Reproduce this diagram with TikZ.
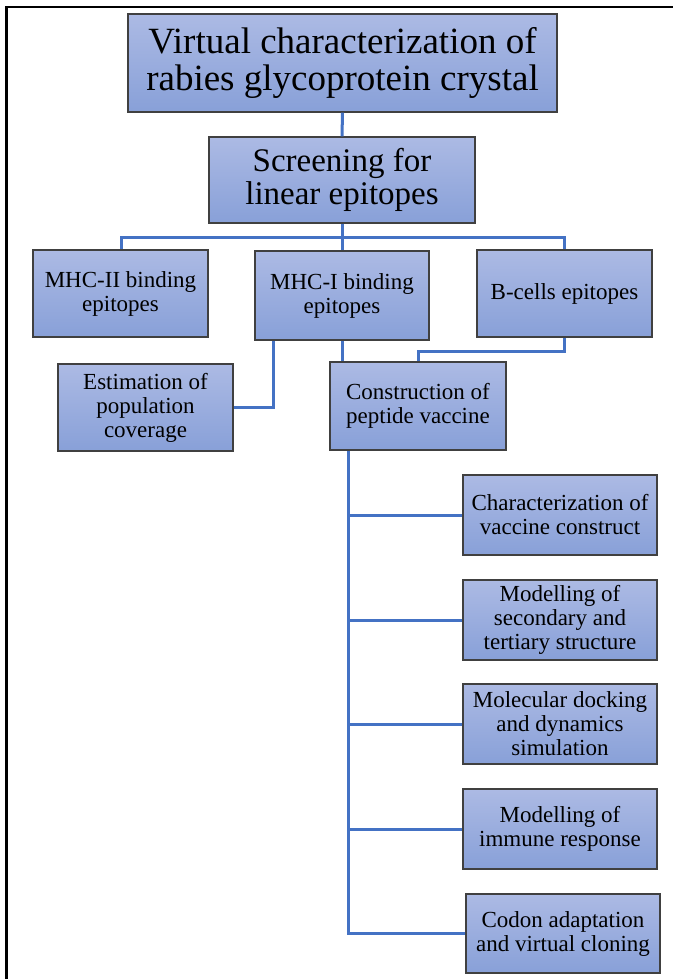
\documentclass[tikz,border=0pt]{standalone}
\usepackage{fontspec}
\setmainfont{Liberation Serif}
\definecolor{boxtop}{RGB}{172,186,228}
\definecolor{boxbot}{RGB}{136,160,216}
\definecolor{conn}{RGB}{68,114,196}
\definecolor{boxedge}{RGB}{64,64,64}
\tikzset{
  flowbox/.style={rectangle, draw=boxedge, line width=1.1pt, top color=boxtop, bottom color=boxbot,
    align=center, inner sep=2pt, font=\fontsize{23}{24}\selectfont},
  bigbox/.style={flowbox, font=\fontsize{37}{37}\selectfont},
  midbox/.style={flowbox, font=\fontsize{33}{33}\selectfont},
  link/.style={draw=conn, line width=3pt, line join=miter}
}
\begin{document}
\begin{tikzpicture}[x=1pt,y=-1pt]
\useasboundingbox (0,0) rectangle (673,979);
\fill[white] (0,0) rectangle (673,979);
\draw[line width=2.5pt] (6.5,979) -- (6.5,7) -- (673,7);

\node[bigbox, minimum width=429pt, minimum height=98pt] (top) at (342.5,63) {Virtual characterization of\\rabies glycoprotein crystal};
\node[midbox, minimum width=266pt, minimum height=86pt] (screen) at (342,180) {Screening for\\linear epitopes};

\node[flowbox, minimum width=175pt, minimum height=87pt] (mhc2) at (120.5,293.5) {MHC-II binding\\epitopes};
\node[flowbox, minimum width=174pt, minimum height=89pt] (mhc1) at (342,295.5) {MHC-I binding\\epitopes};
\node[flowbox, minimum width=175pt, minimum height=87pt] (bcell) at (564.5,293.5) {B-cells epitopes};
\node[flowbox, minimum width=175pt, minimum height=87pt] (estim) at (145.5,407.5) {Estimation of\\population\\coverage};
\node[flowbox, minimum width=176pt, minimum height=88pt] (constr) at (418,406) {Construction of\\peptide vaccine};

\node[flowbox, minimum width=194pt, minimum height=80pt] (char) at (560,515) {Characterization of\\vaccine construct};
\node[flowbox, minimum width=194pt, minimum height=80pt] (modsec) at (560,620) {Modelling of\\secondary and\\tertiary structure};
\node[flowbox, minimum width=194pt, minimum height=80pt] (molec) at (560,724) {Molecular docking\\and dynamics\\simulation};
\node[flowbox, minimum width=194pt, minimum height=80pt] (immune) at (560,829) {Modelling of\\immune response};
\node[flowbox, minimum width=194pt, minimum height=79pt] (codon) at (563,933.5) {Codon adaptation\\and virtual cloning};

% connectors
\draw[link] (top.south) -- (screen.north);
\coordinate (busc) at (342,237);
\coordinate (busl) at (121,237);
\coordinate (busr) at (564,237);
\draw[link] (screen.south) -- (busc);
\draw[link] (mhc2.north -| busl) -- (busl) -- (busr) -- (bcell.north -| busr);
\draw[link] (busc) -- (mhc1.north);

\coordinate (m1a) at (273,340);
\draw[link] (mhc1.south -| m1a) |- (estim.east);
\draw[link] (mhc1.south) -- (constr.north -| mhc1.south);
\coordinate (bk) at (418,351);
\draw[link] (bcell.south) |- (bk) -- (constr.north);

\coordinate (sp) at (348,449);
\draw[link] (constr.south -| sp) |- (codon.west);
\draw[link] (char.west -| sp) -- (char.west);
\draw[link] (modsec.west -| sp) -- (modsec.west);
\draw[link] (molec.west -| sp) -- (molec.west);
\draw[link] (immune.west -| sp) -- (immune.west);
\end{tikzpicture}
\end{document}
